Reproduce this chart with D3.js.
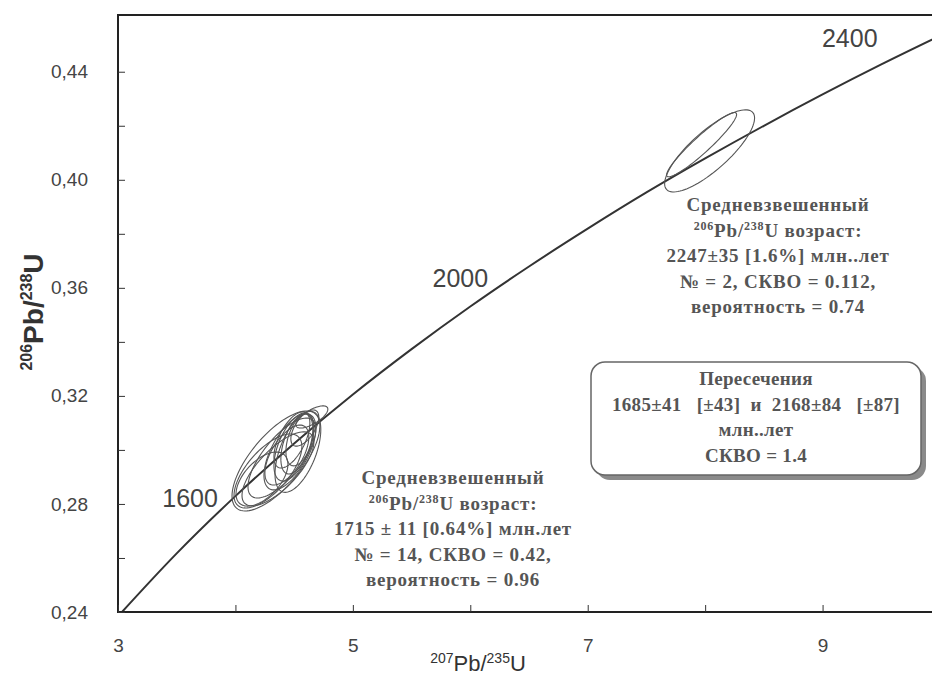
<!DOCTYPE html>
<html>
<head>
<meta charset="utf-8">
<script src="https://cdn.jsdelivr.net/npm/d3@7"></script>
<style>
  html, body { margin: 0; padding: 0; background: #fff; }
  svg { display: block; }
</style>
</head>
<body>
<svg id="chart" width="932" height="675"></svg>
<script>
// Concordia curve, 207Pb/235U vs 206Pb/238U
const concordiaX = [3.0, 3.5, 4.0, 4.5, 5.0, 5.5, 6.0, 6.5, 7.0, 7.5, 8.0, 8.5, 9.0, 9.5, 10.0];
const concordiaY = [0.2384, 0.2617, 0.2829, 0.3024, 0.3205, 0.3373, 0.3531, 0.3679, 0.3819, 0.3953, 0.4079, 0.4200, 0.4316, 0.4427, 0.4533];

// Age labels on the concordia (Ma) and their positions on the curve
const ageLabels = ["1600", "2000", "2400"];
const ageX = [3.834, 6.169, 9.630];
const ageY = [0.2761, 0.3582, 0.4455];

// Analyses: centre, half-extent in x and y, error correlation
const spotX   = [4.345, 4.277, 4.226, 4.396, 4.464, 4.498, 4.523, 4.549, 4.438, 4.651, 4.591, 4.481, 4.532, 4.362, 7.970, 8.038];
const spotY   = [0.2959, 0.2922, 0.2892, 0.2970, 0.2993, 0.3011, 0.3022, 0.3037, 0.2981, 0.3122, 0.3081, 0.3037, 0.2993, 0.2930, 0.4130, 0.4107];
const spotSx  = [0.374, 0.289, 0.221, 0.289, 0.221, 0.170, 0.136, 0.119, 0.187, 0.136, 0.119, 0.153, 0.195, 0.306, 0.298, 0.383];
const spotSy  = [0.0185, 0.0137, 0.0100, 0.0148, 0.0141, 0.0126, 0.0111, 0.0096, 0.0111, 0.0041, 0.0067, 0.0104, 0.0150, 0.0137, 0.0119, 0.0152];
const spotRho = [0.70, 0.66, 0.55, 0.72, 0.62, 0.55, 0.50, 0.45, 0.60, 0.70, 0.60, 0.60, 0.55, 0.72, 0.94, 0.80];

// Axis ticks
const xTicks = [3, 4, 5, 6, 7, 8, 9, 10];
const xTickLabels = ["3", "", "5", "", "7", "", "9", ""];
const yTicks = [0.24, 0.26, 0.28, 0.30, 0.32, 0.34, 0.36, 0.38, 0.40, 0.42, 0.44];
const yTickLabels = ["0,24", "", "0,28", "", "0,32", "", "0,36", "", "0,40", "", "0,44"];

const svg = d3.select("#chart");
const plotLeft = 118, plotRight = 940, plotTop = 15, plotBottom = 612;

const x = d3.scaleLinear().domain([3, 10]).range([plotLeft, plotRight]);
const y = d3.scaleLinear().domain([0.24, 0.461]).range([plotBottom, plotTop]);

svg.append("defs").append("clipPath").attr("id", "plotClip")
  .append("rect").attr("x", plotLeft).attr("y", plotTop)
  .attr("width", plotRight - plotLeft).attr("height", plotBottom - plotTop);

const plot = svg.append("g").attr("clip-path", "url(#plotClip)");

// Concordia
const curvePts = concordiaX.map((v, i) => [v, concordiaY[i]]);
plot.append("path")
  .attr("d", d3.line().x(d => x(d[0])).y(d => y(d[1])).curve(d3.curveMonotoneX)(curvePts))
  .attr("fill", "none").attr("stroke", "#333").attr("stroke-width", 2);

// Error ellipses
const theta = d3.range(0, 2 * Math.PI, Math.PI / 48);
const ellipseLine = d3.line().x(d => x(d[0])).y(d => y(d[1])).curve(d3.curveLinearClosed);
spotX.forEach((cx, i) => {
  const cy = spotY[i], sx = spotSx[i], sy = spotSy[i], r = spotRho[i];
  const k = Math.sqrt(1 - r * r);
  const pts = theta.map(t => [cx + sx * Math.cos(t), cy + sy * (r * Math.cos(t) + k * Math.sin(t))]);
  plot.append("path").attr("d", ellipseLine(pts))
    .attr("fill", "none").attr("stroke", "#555").attr("stroke-width", 1.1);
});

// Age labels
const ageOffsets = [[2, -7], [-2, -6], [-19, -10]];
ageLabels.forEach((lab, i) => {
  svg.append("text")
    .attr("x", x(ageX[i]) + ageOffsets[i][0])
    .attr("y", y(ageY[i]) + ageOffsets[i][1])
    .attr("text-anchor", "end")
    .attr("font-family", "Liberation Sans, Arial, sans-serif")
    .attr("font-size", 25).attr("fill", "#444")
    .text(lab);
});

// Frame
const frame = svg.append("g").attr("stroke", "#222").attr("stroke-width", 2);
frame.append("line").attr("x1", plotLeft).attr("x2", plotLeft).attr("y1", plotTop).attr("y2", plotBottom + 1);
frame.append("line").attr("x1", plotLeft - 1).attr("x2", plotRight).attr("y1", plotBottom).attr("y2", plotBottom);
frame.append("line").attr("x1", plotLeft - 1).attr("x2", plotRight).attr("y1", plotTop).attr("y2", plotTop);

// Axes with inward ticks
const xAxis = d3.axisBottom(x).tickValues(xTicks).tickSizeInner(-7).tickSizeOuter(0)
  .tickPadding(27).tickFormat((d, i) => xTickLabels[i]);
const gx = svg.append("g").attr("transform", `translate(0,${plotBottom})`).call(xAxis);
gx.select(".domain").remove();
gx.selectAll("line").attr("stroke", "#333").attr("stroke-width", 1);
gx.selectAll("text").attr("font-family", "Liberation Sans, Arial, sans-serif")
  .attr("font-size", 19).attr("fill", "#444");

const yAxis = d3.axisLeft(y).tickValues(yTicks).tickSizeInner(-7).tickSizeOuter(0)
  .tickPadding(30).tickFormat((d, i) => yTickLabels[i]);
const gy = svg.append("g").attr("transform", `translate(${plotLeft},0)`).call(yAxis);
gy.select(".domain").remove();
gy.selectAll("line").attr("stroke", "#333").attr("stroke-width", 1);
gy.selectAll("text").attr("font-family", "Liberation Sans, Arial, sans-serif")
  .attr("font-size", 19).attr("fill", "#444");

// Axis titles
const xt = svg.append("text").attr("x", 478).attr("y", 671).attr("text-anchor", "middle")
  .attr("font-family", "Liberation Sans Narrow, Liberation Sans, Arial, sans-serif")
  .attr("font-size", 22).attr("fill", "#333");
xt.append("tspan").attr("font-size", 14).attr("dy", -8).text("207");
xt.append("tspan").attr("dy", 8).text("Pb/");
xt.append("tspan").attr("font-size", 14).attr("dy", -8).text("235");
xt.append("tspan").attr("dy", 8).text("U");

const yt = svg.append("text").attr("transform", "translate(43,312) rotate(-90)").attr("text-anchor", "middle")
  .attr("font-family", "Liberation Sans, Arial, sans-serif").attr("font-weight", "bold")
  .attr("font-size", 28).attr("fill", "#333");
yt.append("tspan").attr("font-size", 16).attr("dy", -11).text("206");
yt.append("tspan").attr("dy", 11).text("Pb/");
yt.append("tspan").attr("font-size", 16).attr("dy", -11).text("238");
yt.append("tspan").attr("dy", 11).text("U");

// Annotation blocks
const serif = "Liberation Serif, Times New Roman, serif";
function block(cx, y0, lines) {
  lines.forEach((ln, i) => {
    const t = svg.append("text").attr("x", cx).attr("y", y0 + i * 25.5).attr("text-anchor", "middle")
      .attr("font-family", serif).attr("font-weight", "bold").attr("font-size", 19)
      .attr("letter-spacing", 0.8).attr("fill", "#555");
    ln.forEach(part => {
      const s = t.append("tspan").text(part.t);
      if (part.sup) s.attr("font-size", 12).attr("dy", -7);
      else if (part.after) s.attr("dy", 7);
    });
  });
}
const ageLine = [{t: "206", sup: true}, {t: "Pb/", after: true}, {t: "238", sup: true}, {t: "U возраст:", after: true}];

block(453, 484, [
  [{t: "Средневзвешенный"}],
  ageLine,
  [{t: "1715 ± 11 [0.64%] млн.лет"}],
  [{t: "№ = 14, СКВО = 0.42,"}],
  [{t: "вероятность = 0.96"}]
]);

block(778, 211, [
  [{t: "Средневзвешенный"}],
  ageLine,
  [{t: "2247±35 [1.6%] млн..лет"}],
  [{t: "№ = 2, СКВО = 0.112,"}],
  [{t: "вероятность = 0.74"}]
]);

// Intercepts box
svg.append("rect").attr("x", 596).attr("y", 367).attr("width", 330).attr("height", 113)
  .attr("rx", 14).attr("fill", "#8a8a8a");
svg.append("rect").attr("x", 591).attr("y", 362).attr("width", 330).attr("height", 113)
  .attr("rx", 14).attr("fill", "#fff").attr("stroke", "#666").attr("stroke-width", 1.5);
const boxLines = ["Пересечения", "1685±41   [±43]  и  2168±84   [±87]", "млн..лет", "СКВО = 1.4"];
boxLines.forEach((ln, i) => {
  svg.append("text").attr("x", 756).attr("y", 385 + i * 25.5).attr("text-anchor", "middle")
    .attr("font-family", serif).attr("font-weight", "bold").attr("font-size", 19)
    .attr("letter-spacing", 0.3).attr("fill", "#555")
    .attr("xml:space", "preserve").style("white-space", "pre")
    .text(ln);
});
</script>
</body>
</html>
